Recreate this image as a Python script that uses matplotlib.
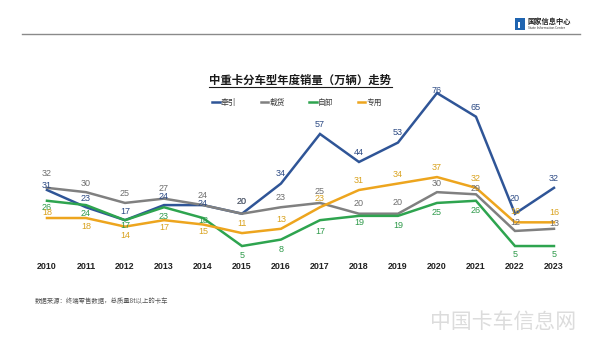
import matplotlib
matplotlib.use('Agg')
import matplotlib.pyplot as plt
from matplotlib.lines import Line2D
from matplotlib.patches import Rectangle

plt.rcParams['font.family'] = ['Noto Sans CJK SC', 'DejaVu Sans']
plt.rcParams['axes.unicode_minus'] = False

years = list(range(2010, 2024))
names = ['牵引', '载货', '自卸', '专用']
tractor = [31, 23, 17, 24, 24, 20, 34, 57, 44, 53, 76, 65, 20, 32]
cargo = [32, 30, 25, 27, 24, 20, 23, 25, 20, 20, 30, 29, 12, 13]
dump = [26, 24, 17, 23, 18, 5, 8, 17, 19, 19, 25, 26, 5, 5]
special = [18, 18, 14, 17, 15, 11, 13, 23, 31, 34, 37, 32, 16, 16]
series = [tractor, cargo, dump, special]

line_colors = ['#2f5597', '#808080', '#2ea44f', '#eda51e']
text_colors = ['#2c4a84', '#6e6e6e', '#2e9a4a', '#d9a21e']
# vertical label offsets in points (positive = above the point)
offsets = [
    [3.5, 6.5, 6.5, 6.5, 1.5, 8.5, 7, 6.5, 6.5, 7, 1.5, 6.5, 11, 7],
    [10, 6.5, 6.5, 7, 7, 8.5, 7, 8, 7, 8, 6.5, 4, 6, 4],
    [-5, -6, -4, -7, -1.5, -6.5, -7.5, -8, -5, -7, -7, -7, -6, -6],
    [4, -6, -6.5, -5, -5, 7, 7, 6.5, 7, 6.5, 7, 7, 8, 7],
]

W, H = 600, 338
fig = plt.figure(figsize=(6, 3.38), dpi=100, facecolor='white')


def fx(px):
    return px / W


def fy(py):
    return 1 - py / H


ax = fig.add_axes([0.0393, 0.2402, 0.923, 0.542])
ax.set_xlim(2009.4, 2023.6)
ax.set_ylim(0, 85)
for s, lc, tc, offs in zip(series, line_colors, text_colors, offsets):
    ax.plot(years, s, color=lc, lw=1.8, solid_joinstyle='miter')
    for x, v, o in zip(years, s, offs):
        ax.annotate(str(v), (x, v), xytext=(0, o), textcoords='offset points',
                    ha='center', va='center', fontsize=6.5, color=tc,
                    family=['Liberation Sans', 'DejaVu Sans'])
for sp in ax.spines.values():
    sp.set_visible(False)
ax.set_yticks([])
ax.set_xticks(years)
ax.set_xticklabels([str(y) for y in years], fontsize=6.4, fontweight='bold',
                   color='#222222', family=['Liberation Sans', 'DejaVu Sans'])
ax.tick_params(axis='x', length=0, pad=4)

# title with underline
fig.text(fx(300), fy(80), '中重卡分车型年度销量（万辆）走势', ha='center', va='center',
         fontsize=8.2, fontweight='bold', color='#1a1a1a')
fig.add_artist(Line2D([fx(209), fx(392)], [fy(87.5), fy(87.5)], color='#1a1a1a', lw=0.8))

handles = [Line2D([0], [0], color=c, lw=1.8) for c in line_colors]
fig.legend(handles, names, loc='center', bbox_to_anchor=(fx(297), fy(103)), ncol=4,
           frameon=False, fontsize=5.6, handlelength=1.0, handletextpad=0.15,
           columnspacing=3.1, labelcolor='#3a3a3a')

# header rule and logo
fig.add_artist(Line2D([fx(22), fx(580)], [fy(34), fy(34)], color='#8a8a8a', lw=1.0))
fig.add_artist(Rectangle((fx(515), fy(30)), fx(10), 12 / H, color='#1f64b0', lw=0))
fig.add_artist(Rectangle((fx(518), fy(28)), fx(2), 6 / H, color='white', lw=0))
fig.text(fx(528), fy(21.5), '国家信息中心', ha='left', va='center', fontsize=5.2,
         fontweight='bold', color='#222222')
fig.text(fx(528), fy(28), 'State Information Center', ha='left', va='center',
         fontsize=2.3, color='#333333')

# footnote and faint watermark
fig.text(fx(35), fy(301), '数据来源：终端零售数据，总质量8t以上的卡车', ha='left', va='center',
         fontsize=4.6, color='#555555')
fig.text(fx(503), fy(322), '中国卡车信息网', ha='center', va='center', fontsize=15,
         color='#dcdcdc')

fig.savefig('out.png', dpi=100, facecolor='white')
